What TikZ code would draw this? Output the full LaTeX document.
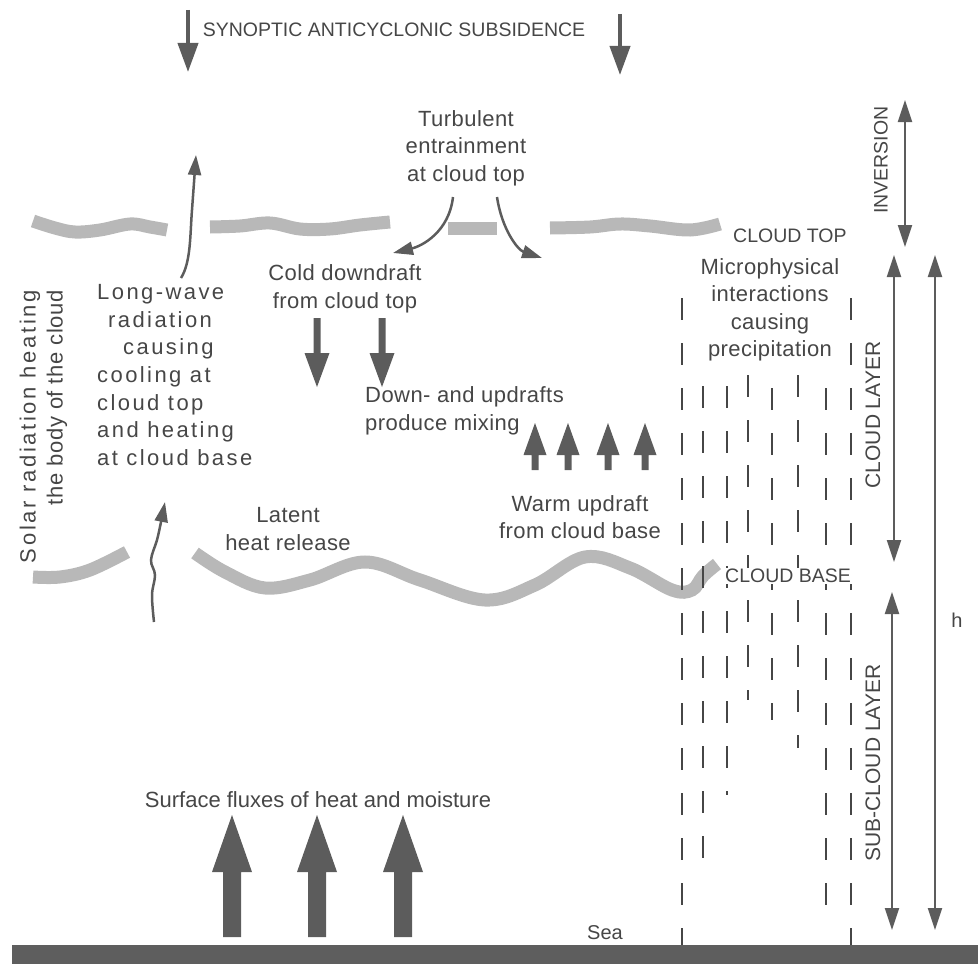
\documentclass[tikz,border=0pt]{standalone}
\usepackage{fontspec}
\setmainfont{Liberation Sans}
\newfontfamily\spacedfont[LetterSpace=2]{Liberation Sans}
\newfontfamily\widefont[LetterSpace=11]{Liberation Sans}
\newfontfamily\widerfont[LetterSpace=12]{Liberation Sans}
\newfontfamily\lightwidefont[LetterSpace=3]{Liberation Sans}
\usetikzlibrary{arrows.meta}
\definecolor{ink}{HTML}{464646}
\definecolor{arr}{HTML}{5C5C5C}
\definecolor{cloudc}{HTML}{B8B8B8}
\definecolor{seac}{HTML}{5E5E5E}
\newcommand\blockarrow[6]{\fill[arr] ({#1-#6},#4) -- ({#1-#6},#3) -- ({#1-#5},#3) -- (#1,#2) -- ({#1+#5},#3) -- ({#1+#6},#3) -- ({#1+#6},#4) -- cycle;}
\begin{document}
\begin{tikzpicture}[x=1pt,y=-1pt,
 lbl/.style={text=ink, font=\spacedfont\fontsize{22}{27.5}\selectfont, align=center, inner sep=0pt},
 widelbl/.style={text=ink, font=\widefont\fontsize{22}{27.7}\selectfont, align=left, inner sep=0pt},
 plainlbl/.style={text=ink, font=\fontsize{22}{27.5}\selectfont, align=center, inner sep=0pt},
 capl/.style={text=ink, font=\fontsize{19.5}{22}\selectfont, inner sep=0pt},
 sidel/.style={text=ink, font=\fontsize{21}{22}\selectfont, inner sep=0pt, rotate=90},
 cloudline/.style={draw=cloudc, line width=13pt},
 thinarrow/.style={draw=arr, line width=2.5pt, -{Triangle[width=13pt,length=20pt]}},
 bigarrow/.style={draw=arr, line width=4pt, -{Triangle[width=20pt,length=29pt]}},
 dimarrow/.style={draw=arr, line width=2pt, {Triangle[width=14pt,length=22pt]}-{Triangle[width=14pt,length=22pt]}},
 rain/.style={draw=ink, line width=2pt, dash pattern=on 22pt off 23pt}]
\useasboundingbox (0,0) rectangle (978,966);

% sea
\fill[seac] (12,945) rectangle (978,964);

% cloud top
\draw[cloudline] plot[smooth, tension=0.6] coordinates {(33,221) (55,228) (75,232) (100,230) (130,224) (150,227) (167,230)};
\draw[cloudline] plot[smooth, tension=0.6] coordinates {(210,227) (240,226) (270,223) (300,229) (330,229) (360,225) (390,222)};
\draw[cloudline] (448,228) -- (497,228);
\draw[cloudline] plot[smooth, tension=0.6] coordinates {(550,228) (590,227) (620,224) (650,226) (690,230) (720,224)};

% cloud base
\draw[cloudline] plot[smooth, tension=0.6] coordinates {(33,577) (60,577) (90,570) (127,552)};
\draw[cloudline] plot[smooth, tension=0.6] coordinates {(195,553) (225,572) (265,588) (310,580) (365,562) (420,580) (485,600) (535,585) (585,557) (630,568) (672,590) (692,590) (703,576) (717,564)};

% rain columns
\draw[rain] (682,298) -- (682,945);
\draw[rain] (703,386) -- (703,865);
\draw[rain] (727,386) -- (727,795);
\draw[rain] (748,375) -- (748,700);
\draw[rain] (772,388) -- (772,720);
\draw[rain] (798,375) -- (798,748);
\draw[rain] (826,388) -- (826,925);
\draw[rain] (851,298) -- (851,945);

% title
\node[capl] (title) at (394,30) {SYNOPTIC ANTICYCLONIC SUBSIDENCE};
\coordinate (s1a) at (188,10); \coordinate (s1b) at (188,72);
\coordinate (s2a) at (620,14); \coordinate (s2b) at (620,75);
\draw[bigarrow] (s1a) -- (s1b);
\draw[bigarrow] (s2a) -- (s2b);

% labels
\node[capl, anchor=west] (ctop) at (733,236) {CLOUD TOP};
\node[capl, anchor=west, fill=white, inner sep=1pt] (cbase) at (724,576) {CLOUD BASE};
\node[lbl] (turb) at (466,148) {Turbulent\\entrainment\\at cloud top};
\node[lbl] (cold) at (345,289) {Cold downdraft\\from cloud top};
\node[lbl, align=left, anchor=west] (mix) at (365,411) {Down- and updrafts\\produce mixing};
\node[lbl] (warm) at (580,517) {Warm updraft\\from cloud base};
\node[lbl] (latent) at (288,529) {Latent\\heat release};
\node[lbl] (micro) at (770,310) {Microphysical\\interactions\\causing\\precipitation};
\node[widelbl, anchor=west] (lw) at (97,375) {Long-wave\\\hspace{11pt}radiation\\\hspace{26pt}causing\\cooling at\\cloud top\\and heating\\at cloud base};
\node[text=ink, font=\fontsize{22}{27}\selectfont, inner sep=0pt, rotate=90, align=right, anchor=east] (solar) at (43.5,290) {{\widerfont Solar radiation heating}\\{\lightwidefont the body of the cloud}};
\node[plainlbl] (surf) at (318,800) {Surface fluxes of heat and moisture};
\node[plainlbl, font=\fontsize{20}{22}\selectfont] (sea) at (605,933) {Sea};
\node[capl, rotate=90] (inv) at (881,160) {INVERSION};
\node[sidel] (cl) at (873,415) {CLOUD LAYER};
\node[sidel] (scl) at (873,763) {SUB-CLOUD LAYER};
\node[plainlbl, font=\fontsize{20}{22}\selectfont] (h) at (957,620) {h};

% entrainment arrows
\coordinate (e1) at (453,197); \coordinate (e1t) at (393,253);
\coordinate (e2) at (497,197); \coordinate (e2t) at (542,258);
\draw[thinarrow] (e1) .. controls (449,232) and (422,246) .. (e1t);
\draw[thinarrow] (e2) .. controls (502,230) and (518,250) .. (e2t);

% long-wave arrows
\coordinate (lw1a) at (181,278); \coordinate (lw1b) at (196,155);
\draw[thinarrow] (lw1a) .. controls (191,262) and (190,235) .. (192,210) -- (lw1b);
\coordinate (lw2a) at (154,622); \coordinate (lw2b) at (165,502);
\draw[thinarrow] plot[smooth, tension=0.6] coordinates {(lw2a) (152,595) (155,575) (151,560) (157,540) (161,522) (lw2b)};

% dimension arrows
\coordinate (invT) at (905,100); \coordinate (invB) at (905,247);
\coordinate (clT) at (894,255); \coordinate (clB) at (894,562);
\coordinate (hT) at (935,255); \coordinate (hB) at (935,930);
\coordinate (sclT) at (892,592); \coordinate (sclB) at (892,930);
\draw[dimarrow] (invT) -- (invB);
\draw[dimarrow] (clT) -- (clB);
\draw[dimarrow] (hT) -- (hB);
\draw[dimarrow] (sclT) -- (sclB);

% block arrows
\blockarrow{232}{815}{872}{937}{20}{9}
\blockarrow{317}{815}{872}{937}{20}{9}
\blockarrow{403}{815}{872}{937}{20}{9}
\blockarrow{317}{387}{353}{318}{12.5}{3.5}
\blockarrow{382}{387}{353}{318}{12.5}{3.5}
\blockarrow{535}{423}{455}{470}{11.5}{3.5}
\blockarrow{568}{423}{455}{470}{11.5}{3.5}
\blockarrow{608}{423}{455}{470}{11.5}{3.5}
\blockarrow{645}{423}{455}{470}{11.5}{3.5}
\end{tikzpicture}
\end{document}
